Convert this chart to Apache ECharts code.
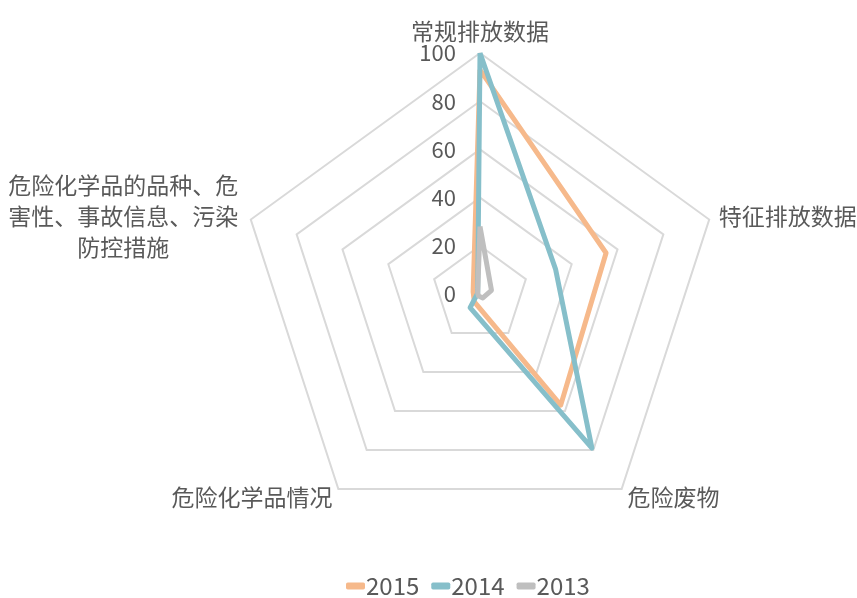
<!DOCTYPE html>
<html><head><meta charset="utf-8">
<script src="https://cdn.jsdelivr.net/npm/echarts@6/dist/echarts.min.js"></script>
<style>html,body{margin:0;padding:0;background:#fff}#c{width:857px;height:598px}</style>
</head><body><div id="c"></div>
<script>
var indicators = ['常规排放数据','特征排放数据','危险废物','危险化学品情况','危险化学品的品种、危害性、事故信息、污染防控措施'];
var seriesNames = ['2015','2014','2013'];
var data2015 = [93, 55, 57, 4, 3];
var data2014 = [100, 33, 79, 7, 1];
var data2013 = [28, 5, 2, 1, 1];
var tickLabels = [0, 20, 40, 60, 80, 100];

// ECharts radar runs counter-clockwise; reorder so the picture runs clockwise
var order = [0, 4, 3, 2, 1];
function reorder(arr){ return order.map(function(i){ return arr[i]; }); }

var colors = ['#F6B98B', '#86BFCA', '#BFBFBF'];
var txt = '#595959';
var font = '"Noto Sans CJK SC", "Noto Sans", sans-serif';
var chart = echarts.init(document.getElementById('c'));
var longName = indicators[4];
var C = [480, 294], R = 241;
chart.setOption({
  animation: false,
  textStyle: {fontFamily: font},
  color: colors,
  legend: {
    data: seriesNames, left: 341, top: 569, itemWidth: 19, itemHeight: 7, itemGap: 12,
    icon: 'roundRect',
    textStyle: {fontSize: 24, color: txt, padding: [0,0,0,-4]}
  },
  polar: {center: C, radius: R},
  angleAxis: {show: false, startAngle: 90, min: 0, max: 360},
  radiusAxis: {
    min: 0, max: 100, interval: 20,
    axisLine: {show: false}, axisTick: {show: false}, splitLine: {show: false},
    axisLabel: {fontSize: 22, color: txt, margin: 24, padding: [6,0,0,0],
      formatter: function(v){ return tickLabels.indexOf(v) >= 0 ? String(v) : ''; }}
  },
  radar: {
    center: C, radius: R, shape: 'polygon', splitNumber: 5, startAngle: 90,
    indicator: reorder(indicators).map(function(n){ return {name: n, max: 100, min: 0}; }),
    axisLine: {show: false},
    splitArea: {show: false},
    splitLine: {lineStyle: {color: '#D9D9D9', width: 2}},
    axisName: {
      color: txt, fontSize: 23,
      formatter: function(n){
        if (n === longName) {
          return '{c|' + n.slice(0,10) + '}\n{c|' + n.slice(10,20) + '}\n{c|' + n.slice(20) + '}';
        }
        return n;
      },
      rich: {c: {width: 236, align: 'center', fontSize: 23, color: txt, lineHeight: 31}}
    },
    axisNameGap: 10
  },
  series: [{
    type: 'radar',
    symbol: 'none',
    lineStyle: {width: 5, join: 'round'},
    data: [
      {name: seriesNames[0], value: reorder(data2015), lineStyle: {color: colors[0], width: 5}, itemStyle: {color: colors[0]}},
      {name: seriesNames[1], value: reorder(data2014), lineStyle: {color: colors[1], width: 5}, itemStyle: {color: colors[1]}},
      {name: seriesNames[2], value: reorder(data2013), lineStyle: {color: colors[2], width: 5}, itemStyle: {color: colors[2]}}
    ]
  }]
});
</script></body></html>
